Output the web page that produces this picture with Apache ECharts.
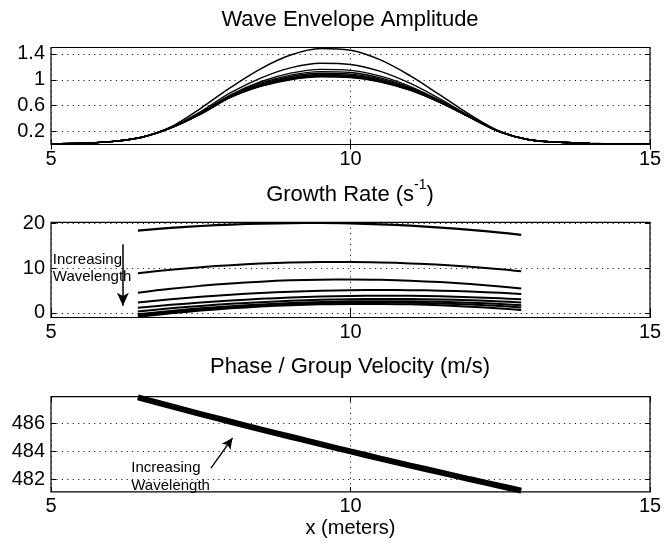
<!DOCTYPE html>
<html>
<head>
<meta charset="utf-8">
<script src="https://cdn.jsdelivr.net/npm/echarts@6/dist/echarts.min.js"></script>
<style>
html, body { margin: 0; padding: 0; background: #fff; }
#chart { width: 665px; height: 546px; }
</style>
</head>
<body>
<div id="chart"></div>
<script>
// ---- Wave envelope amplitude (one curve per wavelength) ----
const ampX = [5, 5.5, 6, 6.5, 7, 7.5, 8, 8.5, 9, 9.5, 10, 10.5, 11, 11.5, 12, 12.5, 13, 13.5, 14, 14.5, 15];
const amp1 = [0.01, 0.02, 0.045, 0.11, 0.27, 0.56, 0.883, 1.17, 1.383, 1.484, 1.458, 1.308, 1.061, 0.762, 0.457, 0.201, 0.07, 0.035, 0.018, 0.009, 0.004];
const amp2 = [0.01, 0.02, 0.045, 0.109, 0.262, 0.51, 0.802, 1.028, 1.185, 1.256, 1.238, 1.131, 0.944, 0.702, 0.435, 0.197, 0.07, 0.035, 0.018, 0.009, 0.004];
const amp3 = [0.01, 0.02, 0.045, 0.108, 0.259, 0.49, 0.769, 0.970, 1.103, 1.162, 1.147, 1.057, 0.896, 0.677, 0.426, 0.195, 0.069, 0.035, 0.018, 0.009, 0.004];
const amp4 = [0.01, 0.02, 0.045, 0.108, 0.258, 0.485, 0.756, 0.948, 1.073, 1.127, 1.113, 1.030, 0.879, 0.668, 0.423, 0.195, 0.069, 0.035, 0.018, 0.009, 0.004];
const amp5 = [0.01, 0.02, 0.045, 0.108, 0.257, 0.48, 0.747, 0.933, 1.052, 1.102, 1.089, 1.011, 0.866, 0.662, 0.421, 0.194, 0.069, 0.035, 0.018, 0.009, 0.004];
const amp6 = [0.01, 0.02, 0.045, 0.108, 0.257, 0.477, 0.740, 0.921, 1.034, 1.082, 1.070, 0.996, 0.856, 0.656, 0.419, 0.194, 0.069, 0.035, 0.018, 0.009, 0.004];
const amp7 = [0.01, 0.02, 0.045, 0.108, 0.256, 0.475, 0.735, 0.911, 1.021, 1.067, 1.056, 0.984, 0.848, 0.652, 0.418, 0.193, 0.069, 0.035, 0.018, 0.009, 0.004];
const amp8 = [0.01, 0.02, 0.045, 0.108, 0.256, 0.473, 0.731, 0.904, 1.011, 1.056, 1.044, 0.975, 0.842, 0.649, 0.416, 0.193, 0.069, 0.035, 0.018, 0.009, 0.004];
const amp9 = [0.01, 0.02, 0.045, 0.108, 0.255, 0.47, 0.727, 0.898, 1.002, 1.046, 1.035, 0.967, 0.837, 0.647, 0.416, 0.193, 0.069, 0.035, 0.018, 0.009, 0.004];

// ---- Growth rate (s^-1) ----
const rateX = [6.45, 7, 7.5, 8, 8.5, 9, 9.5, 10, 10.5, 11, 11.5, 12, 12.5, 12.85];
const rate1 = [18.34, 18.94, 19.37, 19.70, 19.92, 20.03, 20.04, 19.95, 19.75, 19.44, 19.03, 18.52, 17.90, 17.40];
const rate2 = [8.85, 9.61, 10.18, 10.63, 10.98, 11.21, 11.33, 11.34, 11.24, 11.02, 10.70, 10.26, 9.71, 9.25];
const rate3 = [4.50, 5.36, 6.01, 6.54, 6.95, 7.24, 7.40, 7.45, 7.37, 7.18, 6.86, 6.42, 5.86, 5.40];
const rate4 = [2.30, 3.01, 3.56, 4.02, 4.41, 4.71, 4.92, 5.05, 5.10, 5.06, 4.94, 4.74, 4.45, 4.20];
const rate5 = [1.10, 1.77, 2.29, 2.74, 3.11, 3.40, 3.61, 3.74, 3.80, 3.78, 3.67, 3.49, 3.23, 3.00];
const rate6 = [0.30, 0.99, 1.53, 2.00, 2.38, 2.68, 2.90, 3.04, 3.10, 3.08, 2.98, 2.79, 2.53, 2.30];
const rate7 = [-0.30, 0.42, 0.99, 1.48, 1.87, 2.18, 2.41, 2.55, 2.60, 2.57, 2.45, 2.24, 1.95, 1.70];
const rate8 = [-0.60, 0.15, 0.73, 1.23, 1.63, 1.93, 2.15, 2.27, 2.30, 2.24, 2.08, 1.83, 1.49, 1.20];
const rate9 = [-0.90, -0.12, 0.49, 0.99, 1.39, 1.69, 1.89, 1.99, 1.99, 1.88, 1.67, 1.36, 0.95, 0.61];

// ---- Phase / group velocity (m/s) ----
const velX = [6.45, 7, 7.5, 8, 8.5, 9, 9.5, 10, 10.5, 11, 11.5, 12, 12.5, 12.85];
const velocity = [487.85, 487.22, 486.66, 486.11, 485.57, 485.04, 484.51, 483.99, 483.48, 482.98, 482.49, 482.00, 481.52, 481.19];

// ---- Axis ticks ----
const xTicks = [5, 10, 15];
const ampTicks = [0.2, 0.6, 1, 1.4];
const rateTicks = [0, 10, 20];
const velTicks = [482, 484, 486];

const ampCurves = [amp1, amp2, amp3, amp4, amp5, amp6, amp7, amp8, amp9];
const rateCurves = [rate1, rate2, rate3, rate4, rate5, rate6, rate7, rate8, rate9];

const FONT = '"Liberation Sans", Arial, Helvetica, sans-serif';
const INK = '#000';
const dotted = { color: '#222', width: 1, type: [1.2, 4.2] };

const zip = (xs, ys) => xs.map((x, i) => [x, ys[i]]);

// plot boxes (pixel layout of the three stacked panels)
const boxes = [
  { top: 47.5, height: 97 },
  { top: 222.3, height: 95.2 },
  { top: 396.7, height: 95.2 }
];
const yRanges = [
  { min: 0, max: 1.5, ticks: ampTicks },
  { min: -1.05, max: 20.2, ticks: rateTicks },
  { min: 481.1, max: 487.9, ticks: velTicks }
];

const grid = boxes.map(b => ({
  left: 51, right: 15, top: b.top, height: b.height,
  show: true, borderColor: INK, borderWidth: 1.2, backgroundColor: 'transparent',
  containLabel: false
}));

const xAxis = [];
const yAxis = [];
boxes.forEach((b, i) => {
  xAxis.push({
    type: 'value', gridIndex: i, min: 5, max: 15, interval: 5, position: 'bottom',
    axisLine: { show: false },
    axisTick: { show: true, inside: true, length: 5, lineStyle: { color: INK, width: 1 } },
    axisLabel: { show: true, color: INK, fontSize: 20, fontFamily: FONT, margin: 5,
      formatter: v => String(v), customValues: xTicks },
    splitLine: { show: true, lineStyle: dotted },
    name: i === 2 ? 'x (meters)' : '',
    nameLocation: 'middle', nameGap: 27,
    nameTextStyle: { color: INK, fontSize: 20, fontFamily: FONT }
  });
  xAxis.push({
    type: 'value', gridIndex: i, min: 5, max: 15, interval: 5, position: 'top',
    axisLine: { show: false },
    axisTick: { show: true, inside: true, length: 5, lineStyle: { color: INK, width: 1 } },
    axisLabel: { show: false }, splitLine: { show: false }
  });
  const r = yRanges[i];
  yAxis.push({
    type: 'value', gridIndex: i, min: r.min, max: r.max, position: 'left',
    axisLine: { show: false },
    axisTick: { show: true, inside: true, length: 5, customValues: r.ticks, lineStyle: { color: INK, width: 1 } },
    axisLabel: { show: true, color: INK, fontSize: 20, fontFamily: FONT, margin: 6,
      customValues: r.ticks, formatter: v => String(v) },
    splitLine: { show: true, lineStyle: dotted }
  });
  yAxis.push({
    type: 'value', gridIndex: i, min: r.min, max: r.max, position: 'right',
    axisLine: { show: false },
    axisTick: { show: true, inside: true, length: 5, customValues: r.ticks, lineStyle: { color: INK, width: 1 } },
    axisLabel: { show: false }, splitLine: { show: false }
  });
});

const series = [];
ampCurves.forEach((c, k) => {
  series.push({
    type: 'line', xAxisIndex: 0, yAxisIndex: 0, data: zip(ampX, c),
    smooth: 0.35, showSymbol: false, silent: true,
    lineStyle: { color: INK, width: k === 0 ? 1.5 : 1.4 }
  });
});
rateCurves.forEach((c, k) => {
  series.push({
    type: 'line', xAxisIndex: 2, yAxisIndex: 2, data: zip(rateX, c),
    smooth: 0.35, showSymbol: false, silent: true,
    lineStyle: { color: INK, width: k === 0 ? 2.2 : 2 }
  });
});
// arrow: growth rate falls as wavelength increases
series[series.length - 1].markLine = {
  silent: true, animation: false, symbol: ['none', 'arrow'], symbolSize: [9, 13],
  label: { show: false },
  lineStyle: { color: INK, width: 1.5, type: 'solid' },
  data: [[{ coord: [6.2, 15.3] }, { coord: [6.2, 1.6] }]]
};
series.push({
  type: 'line', xAxisIndex: 4, yAxisIndex: 4, data: zip(velX, velocity),
  smooth: 0.3, showSymbol: false, silent: true,
  lineStyle: { color: INK, width: 6 },
  markLine: {
    silent: true, animation: false, symbol: ['none', 'arrow'], symbolSize: [8, 11],
    label: { show: false },
    lineStyle: { color: INK, width: 1.3, type: 'solid' },
    data: [[{ coord: [7.67, 482.8] }, { coord: [8.03, 484.95] }]]
  }
});

const titleText = (text, y, rich) => ({
  type: 'text', x: 350, y: y,
  style: { text: text, fill: INK, font: '22px ' + FONT, align: 'center', verticalAlign: 'middle', rich: rich }
});

const option = {
  animation: false,
  backgroundColor: '#fff',
  grid, xAxis, yAxis, series,
  graphic: [
    titleText('Wave Envelope Amplitude', 20),
    titleText('{b|Growth Rate (s}{s|-1}{b|)}', 192, {
      b: { fontSize: 22, fontFamily: FONT, fill: INK, lineHeight: 28, verticalAlign: 'bottom' },
      s: { fontSize: 14, fontFamily: FONT, fill: INK, lineHeight: 28, verticalAlign: 'top' }
    }),
    titleText('Phase / Group Velocity (m/s)', 367)
  ]
};

const chart = echarts.init(document.getElementById('chart'), null, { renderer: 'canvas' });
chart.setOption(option);

// annotation text, anchored in data space
const note = (gridIndex, pt, text) => {
  const p = chart.convertToPixel({ gridIndex: gridIndex }, pt);
  return { type: 'text', x: p[0], y: p[1],
    style: { text: text, fill: INK, font: '15px ' + FONT, align: 'left', verticalAlign: 'middle' } };
};
chart.setOption({
  graphic: option.graphic.concat([
    note(1, [5.03, 11.9], 'Increasing'),
    note(1, [5.03, 8.1], 'Wavelength'),
    note(2, [6.34, 482.85], 'Increasing'),
    note(2, [6.34, 481.55], 'Wavelength')
  ])
});
</script>
</body>
</html>
